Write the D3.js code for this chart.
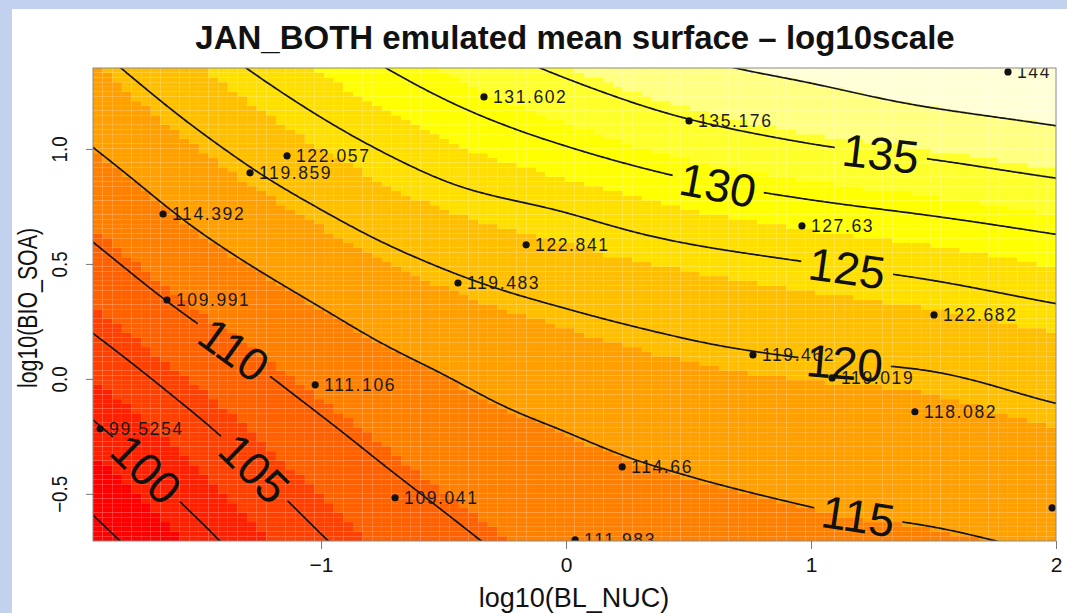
<!DOCTYPE html>
<html>
<head>
<meta charset="utf-8">
<script src="https://cdn.jsdelivr.net/npm/d3@7"></script>
<style>
  html, body { margin: 0; padding: 0; background: #fff; }
  svg { display: block; }
  text { font-family: "Liberation Sans", Arial, Helvetica, sans-serif; }
</style>
</head>
<body>
<svg id="chart" width="1067" height="613"></svg>
<script>
// ---- data -------------------------------------------------------------
// Emulated mean surface sampled on a regular log10 grid (rows follow gridY).
const gridX = [-2, -1.5, -1, -0.5, 0, 0.5, 1, 1.5, 2];
const gridY = [-0.75, -0.5, -0.25, 0, 0.25, 0.5, 0.75, 1.0, 1.25, 1.5];
const surfaceRows = [
  [ 92.2,  98.45, 104.28, 108.58, 111.60, 113.07, 113.88, 114.24, 115.15],
  [ 95.3, 101.26, 106.66, 110.63, 113.22, 114.47, 115.37, 116.04, 116.97],
  [ 98.3, 104.01, 109.08, 112.73, 114.85, 116.32, 117.28, 117.87, 118.80],
  [101.6, 107.02, 111.66, 114.82, 117.10, 118.44, 119.18, 119.69, 121.01],
  [104.95,110.16, 114.33, 117.49, 119.41, 120.78, 121.78, 122.61, 123.93],
  [108.1, 113.27, 117.21, 120.26, 122.25, 123.71, 124.92, 126.12, 127.69],
  [111.2, 116.25, 120.17, 123.48, 125.40, 127.73, 129.44, 130.83, 132.38],
  [114.25,119.07, 123.28, 126.89, 129.79, 132.56, 134.56, 135.99, 137.77],
  [117.0, 121.97, 126.43, 130.46, 134.03, 137.22, 139.32, 141.47, 143.0],
  [119.8, 124.93, 129.66, 134.04, 138.3,  141.76, 144.05, 145.3,  146.0]
];

// Plotted region of the surface (log10 units)
const xExtent = [-1.931, 2.0];
const yExtent = [-0.705, 1.352];

// Contour levels and where each printed level label sits
const contourLevels = [95, 100, 105, 110, 115, 120, 125, 130, 135, 140];
const labelLevels = [100, 105, 110, 115, 120, 125, 130, 135];
const labelX = [-1.706, -1.269, -1.363, 1.192, 1.139, 1.151, 0.620, 1.282];
const labelY = [-0.383, -0.383, 0.117, -0.583, 0.061, 0.483, 0.839, 0.974];

// Design runs with their simulated values (the run on the right edge has its value cut off)
const runX = [1.804, -0.335, 0.502, -1.139, -1.290, -1.645, -0.163, 0.963, -0.441, -1.629,
              1.502, 0.763, 1.086, -1.024, 1.424, -1.902, 0.229, -0.698, 0.037, 1.984];
const runY = [1.335, 1.226, 1.122, 0.970, 0.896, 0.717, 0.583, 0.665, 0.417, 0.343,
              0.278, 0.104, 0.004, -0.026, -0.143, -0.217, -0.383, -0.517, -0.700, -0.561];
const runLabels = ["144", "131.602", "135.176", "122.057", "119.859", "114.392", "122.841", "127.63",
                   "119.483", "109.991", "122.682", "119.462", "119.019", "111.106", "118.082",
                   "99.5254", "114.66", "109.041", "111.983", ""];

const xTicks = [-1, 0, 1, 2];
const yTicks = [-0.5, 0, 0.5, 1.0];

// ---- surface evaluation (Catmull-Rom bicubic over the grid) -----------
function cubic(p0, p1, p2, p3, t) {
  return p1 + 0.5 * t * (p2 - p0 + t * (2 * p0 - 5 * p1 + 4 * p2 - p3 + t * (3 * (p1 - p2) + p3 - p0)));
}
function nodeValue(i, j) {
  const nx = gridX.length, ny = gridY.length;
  // linear continuation past the edges of the grid
  if (i < 0) return 2 * nodeValue(0, j) - nodeValue(1, j);
  if (i > nx - 1) return 2 * nodeValue(nx - 1, j) - nodeValue(nx - 2, j);
  if (j < 0) return 2 * nodeValue(i, 0) - nodeValue(i, 1);
  if (j > ny - 1) return 2 * nodeValue(i, ny - 1) - nodeValue(i, ny - 2);
  return surfaceRows[j][i];
}
function surface(px, py) {
  const nx = gridX.length, ny = gridY.length;
  const fx = (px - gridX[0]) / (gridX[1] - gridX[0]);
  const fy = (py - gridY[0]) / (gridY[1] - gridY[0]);
  const ix = Math.max(0, Math.min(nx - 2, Math.floor(fx)));
  const iy = Math.max(0, Math.min(ny - 2, Math.floor(fy)));
  const tx = Math.max(0, Math.min(1, fx - ix));
  const ty = Math.max(0, Math.min(1, fy - iy));
  const row = k => cubic(nodeValue(ix - 1, iy + k), nodeValue(ix, iy + k),
                         nodeValue(ix + 1, iy + k), nodeValue(ix + 2, iy + k), tx);
  return cubic(row(-1), row(0), row(1), row(2), ty);
}

// heat.colors palette (red -> yellow -> near white)
function hsvHex(h, s, v) {
  const i = Math.floor(h * 6), f = h * 6 - i;
  const p = v * (1 - s), q = v * (1 - f * s), t = v * (1 - (1 - f) * s);
  let r, g, b;
  switch (((i % 6) + 6) % 6) {
    case 0: r = v; g = t; b = p; break;
    case 1: r = q; g = v; b = p; break;
    case 2: r = p; g = v; b = t; break;
    case 3: r = p; g = q; b = v; break;
    case 4: r = t; g = p; b = v; break;
    default: r = v; g = p; b = q;
  }
  return d3.rgb(r * 255, g * 255, b * 255).formatHex();
}
function heatColors(n) {
  const j = Math.floor(n / 4), i = n - j, cols = [];
  for (let k = 0; k < i; k++) cols.push(hsvHex((1 / 6) * k / (i - 1), 1, 1));
  for (let k = 0; k < j; k++) {
    const s0 = 1 - 1 / (2 * j), s1 = 1 / (2 * j);
    cols.push(hsvHex(1 / 6, j > 1 ? s0 + (s1 - s0) * k / (j - 1) : s0, 1));
  }
  return cols;
}

// ---- layout -----------------------------------------------------------
const W = 1067, H = 613;
const plot = { left: 93, right: 1056, top: 68, bottom: 541 };
const x = d3.scaleLinear().domain(xExtent).range([plot.left, plot.right]);
const y = d3.scaleLinear().domain(yExtent).range([plot.bottom, plot.top]);

const svg = d3.select("#chart");
const defs = svg.append("defs");

svg.append("rect").attr("width", W).attr("height", H).attr("fill", "#ffffff");
svg.append("rect").attr("width", W).attr("height", 9).attr("fill", "#c2d2ee");
svg.append("rect").attr("width", 12).attr("height", H).attr("fill", "#c2d2ee");

defs.append("clipPath").attr("id", "plotClip")
  .append("rect")
  .attr("x", plot.left).attr("y", plot.top)
  .attr("width", plot.right - plot.left).attr("height", plot.bottom - plot.top);

// ---- image of the surface (100 x 100 cells) ---------------------------
const NC = 100;
const cw = (xExtent[1] - xExtent[0]) / NC, ch = (yExtent[1] - yExtent[0]) / NC;
const cells = [];
for (let j = 0; j < NC; j++) {
  for (let i = 0; i < NC; i++) {
    const cx = xExtent[0] + (i + 0.5) * cw, cy = yExtent[0] + (j + 0.5) * ch;
    cells.push({ i, j, z: surface(cx, cy) });
  }
}
const palette = heatColors(12);
const zRange = d3.extent(cells, d => d.z);
const colour = d3.scaleQuantize().domain(zRange).range(palette);

svg.append("g")
  .selectAll("rect")
  .data(cells)
  .join("rect")
  .attr("x", d => x(xExtent[0] + d.i * cw))
  .attr("y", d => y(yExtent[0] + (d.j + 1) * ch))
  .attr("width", x(xExtent[0] + cw) - x(xExtent[0]))
  .attr("height", y(yExtent[0]) - y(yExtent[0] + ch))
  .attr("fill", d => colour(d.z));

// ---- contours ---------------------------------------------------------
const CN = 440, CM = 240, pad = 0.06;
const c0x = xExtent[0] - pad, c1x = xExtent[1] + pad;
const c0y = yExtent[0] - pad, c1y = yExtent[1] + pad;
const sx = (c1x - c0x) / (CN - 1), sy = (c1y - c0y) / (CM - 1);
const samples = new Float64Array(CN * CM);
for (let m = 0; m < CM; m++)
  for (let k = 0; k < CN; k++)
    samples[k + m * CN] = surface(c0x + k * sx, c0y + m * sy);

const contourSets = d3.contours().size([CN, CM]).thresholds(contourLevels)(samples);
const toPixel = (c, r) => [x(c0x + (c - 0.5) * sx), y(c0y + (r - 0.5) * sy)];
const contourPath = d3.geoPath(d3.geoTransform({
  point(c, r) { const p = toPixel(c, r); this.stream.point(p[0], p[1]); }
}));

// level labels: find the contour point nearest the label spot and its local direction
const labelFont = 46;
const probe = svg.append("text").attr("font-size", labelFont).attr("opacity", 0);
const labels = labelLevels.map((lev, n) => {
  const set = contourSets.find(c => c.value === lev);
  const target = [x(labelX[n]), y(labelY[n])];
  let best = null;
  set.coordinates.forEach(poly => poly.forEach(ring => {
    const pts = ring.map(p => toPixel(p[0], p[1]));
    pts.forEach((p, idx) => {
      if (p[0] < plot.left || p[0] > plot.right || p[1] < plot.top || p[1] > plot.bottom) return;
      const d2 = (p[0] - target[0]) ** 2 + (p[1] - target[1]) ** 2;
      if (!best || d2 < best.d2) best = { d2, pts, idx };
    });
  }));
  const L = best.pts.length, s = 6;
  const a = best.pts[(best.idx - s + L) % L], b = best.pts[(best.idx + s) % L];
  let ang = Math.atan2(b[1] - a[1], b[0] - a[0]) * 180 / Math.PI;
  if (ang > 90) ang -= 180;
  if (ang < -90) ang += 180;
  probe.text(String(lev));
  const w = probe.node().getComputedTextLength();
  return { lev, p: best.pts[best.idx], ang, w };
});
probe.remove();

const gapMask = defs.append("mask").attr("id", "labelGaps")
  .attr("maskUnits", "userSpaceOnUse")
  .attr("x", 0).attr("y", 0).attr("width", W).attr("height", H);
gapMask.append("rect").attr("width", W).attr("height", H).attr("fill", "#fff");
gapMask.selectAll("rect.gap")
  .data(labels)
  .join("rect")
  .attr("class", "gap")
  .attr("x", d => -d.w / 2 - 8).attr("y", -labelFont * 0.42)
  .attr("width", d => d.w + 16).attr("height", labelFont * 0.84)
  .attr("transform", d => `translate(${d.p[0]},${d.p[1]}) rotate(${d.ang})`)
  .attr("fill", "#000");

const plotLayer = svg.append("g").attr("clip-path", "url(#plotClip)");

plotLayer.append("g")
  .attr("mask", "url(#labelGaps)")
  .selectAll("path")
  .data(contourSets)
  .join("path")
  .attr("d", contourPath)
  .attr("fill", "none")
  .attr("stroke", "#141414")
  .attr("stroke-width", 1.7)
  .attr("stroke-linejoin", "round");

plotLayer.append("g")
  .selectAll("text")
  .data(labels)
  .join("text")
  .attr("transform", d => `translate(${d.p[0]},${d.p[1]}) rotate(${d.ang})`)
  .attr("text-anchor", "middle")
  .attr("dy", "0.36em")
  .attr("font-size", labelFont)
  .attr("fill", "#111")
  .text(d => d.lev);

// ---- design runs ------------------------------------------------------
const runs = runX.map((v, k) => ({ x: v, y: runY[k], label: runLabels[k] }));

plotLayer.append("g")
  .selectAll("circle")
  .data(runs)
  .join("circle")
  .attr("cx", d => x(d.x))
  .attr("cy", d => y(d.y))
  .attr("r", 3.6)
  .attr("fill", "#111");

plotLayer.append("g")
  .selectAll("text")
  .data(runs.filter(d => d.label !== ""))
  .join("text")
  .attr("x", d => x(d.x) + 9)
  .attr("y", d => y(d.y))
  .attr("dy", "0.36em")
  .attr("font-size", 17.5)
  .attr("letter-spacing", 1.6)
  .attr("fill", "#1a1a1a")
  .text(d => d.label);

// frame
svg.append("rect")
  .attr("x", plot.left).attr("y", plot.top)
  .attr("width", plot.right - plot.left).attr("height", plot.bottom - plot.top)
  .attr("fill", "none").attr("stroke", "#8a8a8a").attr("stroke-width", 1);

// ---- axes -------------------------------------------------------------
const fmt = d => (d < 0 ? "\u2212" + Math.abs(d) : String(d));
const fmtY = d => (d < 0 ? "\u2212" + Math.abs(d).toFixed(1) : d.toFixed(1));

const xAxis = svg.append("g")
  .attr("transform", `translate(0,${plot.bottom})`)
  .call(d3.axisBottom(x).tickValues(xTicks).tickSize(8).tickPadding(8).tickFormat(fmt));
xAxis.select(".domain").remove();
xAxis.selectAll(".tick line").attr("stroke", "#777");
xAxis.selectAll(".tick text")
  .attr("font-size", 21).attr("fill", "#111")
  .attr("font-family", "'Liberation Sans', Arial, sans-serif");

const yAxis = svg.append("g")
  .attr("transform", `translate(${plot.left},0)`)
  .call(d3.axisLeft(y).tickValues(yTicks).tickSize(7).tickFormat(fmtY));
yAxis.select(".domain").remove();
yAxis.selectAll(".tick line").attr("stroke", "#777");
yAxis.selectAll(".tick text")
  .attr("x", 0).attr("y", -26).attr("dy", 0)
  .attr("text-anchor", "middle")
  .attr("transform", "scale(1,0.85) rotate(-90)")
  .attr("font-size", 22).attr("fill", "#111")
  .attr("font-family", "'Liberation Sans', Arial, sans-serif");

// ---- titles -----------------------------------------------------------
svg.append("text")
  .attr("x", 575).attr("y", 49)
  .attr("text-anchor", "middle")
  .attr("font-size", 33).attr("font-weight", "bold").attr("fill", "#111")
  .text("JAN_BOTH emulated mean surface \u2013 log10scale");

svg.append("text")
  .attr("x", 574).attr("y", 607)
  .attr("text-anchor", "middle")
  .attr("font-size", 27).attr("fill", "#111")
  .text("log10(BL_NUC)");

svg.append("text")
  .attr("transform", "translate(37,308) scale(1,0.79) rotate(-90)")
  .attr("text-anchor", "middle")
  .attr("font-size", 27).attr("fill", "#111")
  .text("log10(BIO_SOA)");
</script>
</body>
</html>
